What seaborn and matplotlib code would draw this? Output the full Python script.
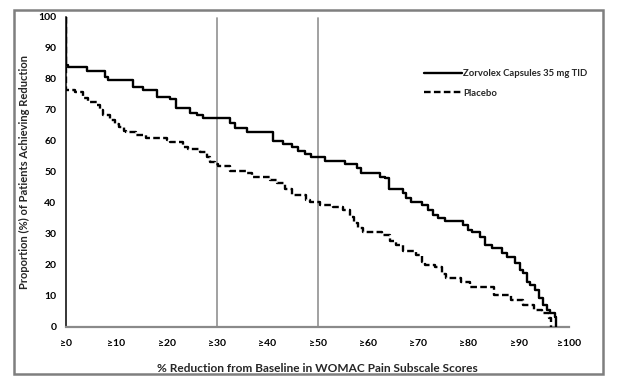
import numpy as np
import pandas as pd
import matplotlib
matplotlib.use("Agg")
import matplotlib.pyplot as plt
import seaborn as sns
from matplotlib.patches import Rectangle

# ─────────────────────────────────────────
# DATA (step points)
# ─────────────────────────────────────────

zorvolex_x = [0, 0, 0.3, 4.2, 7.8, 8.3, 13.3, 15.4, 18.0, 20.7, 21.8, 24.7, 26.0, 27.3,
              32.6, 33.6, 35.9, 41.1, 43.2, 44.9, 46.2, 47.5, 48.8, 51.5, 55.5, 57.8,
              58.6, 62.5, 63.4, 64.2, 67.0, 67.5, 68.5, 70.7, 72.0, 73.0, 74.0, 75.3,
              79.0, 80.0, 80.7, 82.3, 83.3, 84.6, 86.6, 87.6, 89.3, 90.3, 90.9, 91.6,
              92.2, 93.2, 94.0, 94.8, 95.6, 96.2, 97.2, 97.5]
zorvolex_y = [100, 84.4, 83.7, 82.6, 80.6, 79.6, 77.4, 76.4, 74.2, 73.4, 70.4, 69.0, 68.3, 67.2,
              65.6, 64.2, 62.9, 60.0, 58.9, 57.9, 56.8, 55.7, 54.6, 53.6, 52.6, 51.2,
              49.6, 48.4, 47.9, 44.4, 43.0, 41.6, 40.3, 39.3, 37.6, 36.0, 35.0, 34.2,
              32.8, 31.2, 30.6, 29.0, 26.4, 25.3, 23.7, 22.6, 20.5, 18.3, 17.2, 14.5,
              13.5, 11.8, 9.2, 7.0, 5.4, 4.3, 3.0, 0]

placebo_x = [0, 0, 1.8, 3.4, 4.4, 6.1, 6.8, 7.4, 8.7, 9.7, 10.5, 11.5, 12.0, 14.0, 16.0,
             20.0, 20.7, 23.3, 24.3, 26.6, 28.0, 28.6, 29.6, 30.2, 32.6, 35.9, 36.9,
             40.6, 41.9, 43.5, 44.9, 47.8, 48.5, 50.5, 53.0, 55.0, 56.5, 57.3, 58.0,
             59.0, 62.8, 64.4, 65.7, 67.0, 69.5, 70.8, 71.3, 73.4, 74.7, 75.5, 78.5,
             80.3, 85.0, 88.5, 90.8, 93.0, 94.6, 96.0, 96.5]
placebo_y = [100, 76.5, 75.8, 73.7, 72.6, 71.5, 69.9, 68.3, 66.7, 65.5, 64.5, 63.2, 62.9, 61.8, 60.8,
             60.2, 59.7, 58.1, 57.2, 56.5, 54.8, 53.2, 52.5, 51.8, 50.3, 49.5, 48.4,
             47.3, 46.3, 44.3, 42.5, 40.9, 40.3, 39.3, 38.7, 37.6, 35.5, 33.5, 31.7,
             30.6, 29.6, 27.8, 26.4, 24.4, 23.1, 21.0, 19.9, 19.4, 17.0, 15.6, 14.5,
             12.9, 10.2, 8.6, 7.0, 5.4, 4.3, 2.7, 0]

labels = ["Zorvolex Capsules 35 mg TID", "Placebo"]
xticks = list(range(0, 101, 10))
xticklabels = ["\u2265" + str(t) for t in xticks]
yticks = list(range(0, 101, 10))
ref_lines = [30, 50]

df = pd.concat([
    pd.DataFrame({"x": zorvolex_x, "y": zorvolex_y, "group": labels[0]}),
    pd.DataFrame({"x": placebo_x, "y": placebo_y, "group": labels[1]}),
], ignore_index=True)

# ─────────────────────────────────────────
# PLOT
# ─────────────────────────────────────────

sns.set_style("white")
plt.rcParams["font.family"] = ["Lato", "DejaVu Sans"]
plt.rcParams["font.weight"] = "bold"

fig = plt.figure(figsize=(6.23, 3.85), dpi=100)
ax = fig.add_axes([66 / 623, 1 - 326.7 / 385, 503 / 623, 310 / 385])

for x in ref_lines:
    ax.axvline(x, ymin=0, ymax=0.995, color="#9a9a9a", linewidth=1.3, zorder=1)

sns.lineplot(
    data=df, x="x", y="y", hue="group", style="group",
    palette=["black", "black"], dashes={labels[0]: "", labels[1]: (2.8, 1.4)},
    estimator=None, sort=False, drawstyle="steps-post",
    linewidth=1.7, ax=ax, zorder=3,
)

ax.set_xlim(0, 100)
ax.set_ylim(0, 100)
ax.set_xticks(xticks)
ax.set_xticklabels(xticklabels)
ax.set_yticks(yticks)
ax.tick_params(axis="both", labelsize=7.5, colors="#808080", length=3, width=1,
               direction="out", labelcolor="black")
ax.tick_params(axis="x", pad=6)
ax.tick_params(axis="y", pad=4)
for lab in ax.get_xticklabels() + ax.get_yticklabels():
    lab.set_fontweight("bold")

sns.despine(ax=ax)
ax.spines["left"].set_color("black")
ax.spines["left"].set_linewidth(1.1)
ax.spines["bottom"].set_color("#8a8a8a")
ax.spines["bottom"].set_linewidth(1.6)

ax.set_xlabel("% Reduction from Baseline in WOMAC Pain Subscale Scores",
              fontsize=8.6, fontweight="bold", labelpad=11)
ax.set_ylabel("Proportion (%) of Patients Achieving Reduction",
              fontsize=8, fontweight="bold", labelpad=6)

leg = ax.legend(loc="upper left", bbox_to_anchor=(0.712, 0.83), frameon=False,
                fontsize=6.8, handlelength=4.0, handletextpad=0.15, labelspacing=1.1,
                borderpad=0, borderaxespad=0)
for t in leg.get_texts():
    t.set_fontweight("bold")

fig.patches.append(Rectangle((14 / 623, 11 / 385), 589 / 623, 364 / 385,
                             transform=fig.transFigure, fill=False,
                             edgecolor="#7f7f7f", linewidth=1.8))

plt.savefig("out.png", dpi=100)
print("Saved out.png")
